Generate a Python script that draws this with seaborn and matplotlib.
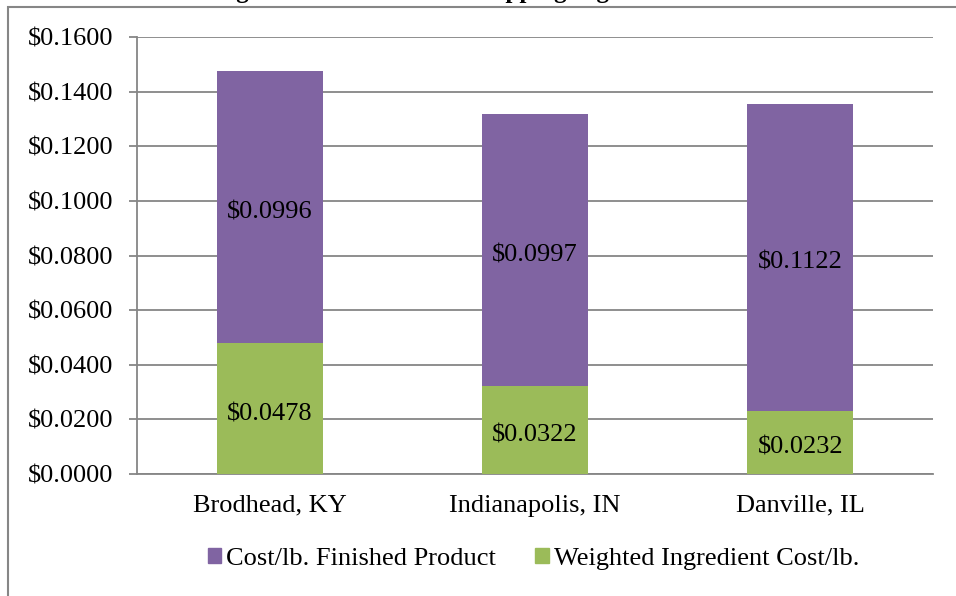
import matplotlib
matplotlib.use("Agg")
import matplotlib.pyplot as plt
from matplotlib.patches import Rectangle, Patch
from matplotlib.ticker import FuncFormatter, FixedLocator
import numpy as np
import pandas as pd
import seaborn as sns

# data
locations = ["Brodhead, KY", "Indianapolis, IN", "Danville, IL"]
ingredient_cost = [0.0478, 0.0322, 0.0232]
finished_cost = [0.0996, 0.0997, 0.1122]
series_names = ["Cost/lb. Finished Product", "Weighted Ingredient Cost/lb."]
title = "Figure 4.4 Total Cost of Shipping Ingredients and Finished Products"

PURPLE = "#8064A2"
GREEN = "#9BBB59"
GRID = "#868686"
FS = 19

sns.set_style("white")
plt.rcParams["font.family"] = ["Liberation Serif", "DejaVu Serif"]
plt.rcParams["text.color"] = "black"
plt.rcParams["xtick.color"] = "black"
plt.rcParams["ytick.color"] = "black"

df = pd.DataFrame({"Location": locations,
                   "Ingredient": ingredient_cost,
                   "Finished": finished_cost})
df["Total"] = df["Ingredient"] + df["Finished"]

fig = plt.figure(figsize=(9.56, 5.96), dpi=100)
ax = fig.add_axes([137 / 956, 1 - 474 / 596, 796 / 956, 437 / 596])

# stacked bars: total first, ingredient drawn over it
sns.barplot(data=df, x="Location", y="Total", color=PURPLE, width=0.4,
            saturation=1, ax=ax, zorder=3, linewidth=0)
sns.barplot(data=df, x="Location", y="Ingredient", color=GREEN, width=0.4,
            saturation=1, ax=ax, zorder=3, linewidth=0)

for i, row in df.iterrows():
    ax.annotate(f"${row['Ingredient']:.4f}", (i, row["Ingredient"] / 2),
                xytext=(0, -4), textcoords="offset points",
                ha="center", va="center", fontsize=FS, zorder=4)
    ax.annotate(f"${row['Finished']:.4f}", (i, row["Ingredient"] + row["Finished"] / 2),
                xytext=(0, -4), textcoords="offset points",
                ha="center", va="center", fontsize=FS, zorder=4)

ax.set_ylim(0, 0.16)
ax.set_xlim(-0.5, 2.5)
ax.set_yticks(np.arange(0, 0.1601, 0.02))
ax.yaxis.set_major_formatter(FuncFormatter(lambda v, p: f"${v:.4f}"))
ax.yaxis.grid(True, color=GRID, linewidth=1.3, zorder=0)
ax.set_axisbelow(True)
ax.set_xlabel("")
ax.set_ylabel("")

ax.xaxis.set_minor_locator(FixedLocator([-0.5, 0.5, 1.5, 2.5]))
ax.tick_params(axis="x", which="major", length=0, pad=15, labelsize=FS)
ax.tick_params(axis="x", which="minor", length=7, width=1.3, color=GRID, direction="out")
ax.tick_params(axis="y", length=6, width=1.3, color=GRID, labelcolor="black",
               direction="out", left=True, labelsize=FS, pad=11)

for s in ["top", "right"]:
    ax.spines[s].set_visible(False)
for s in ["left", "bottom"]:
    ax.spines[s].set_color(GRID)
    ax.spines[s].set_linewidth(1.3)

handles = [Patch(color=PURPLE), Patch(color=GREEN)]
fig.legend(handles, series_names, loc="center", bbox_to_anchor=(0.558, 0.062),
           ncol=2, frameon=False, fontsize=FS, handlelength=0.5,
           handleheight=0.5, handletextpad=0.2, columnspacing=1.5)

# outer chart frame
fig.patches.append(Rectangle((8 / 956, -0.05), 1.0, 1 - 7 / 596 + 0.05,
                             transform=fig.transFigure, fill=False,
                             edgecolor=GRID, linewidth=1.5, clip_on=False))

# caption above the frame, cropped in the source image
fig.text(940 / 956, 1 + 2 / 596, title, ha="right", va="baseline",
         fontsize=18, fontweight="bold")

fig.savefig("out.png", dpi=100)
